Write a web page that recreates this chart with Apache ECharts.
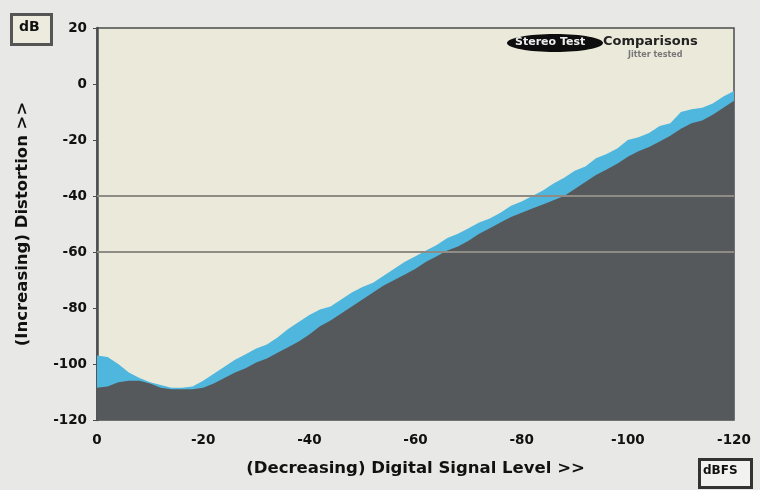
<!DOCTYPE html>
<html><head><meta charset="utf-8">
<script src="https://cdn.jsdelivr.net/npm/echarts@6/dist/echarts.min.js"></script>
<style>html,body{margin:0;padding:0;background:#e8e8e7;}#c{width:760px;height:490px;}</style>
</head><body><div id="c"></div>
<script>
const signalLevels = [0,-2,-4,-6,-8,-10,-12,-14,-16,-18,-20,-22,-24,-26,-28,-30,-32,-34,-36,-38,-40,-42,-44,-46,-48,-50,-52,-54,-56,-58,-60,-62,-64,-66,-68,-70,-72,-74,-76,-78,-80,-82,-84,-86,-88,-90,-92,-94,-96,-98,-100,-102,-104,-106,-108,-110,-112,-114,-116,-118,-120];
const upperDistortion = [-97,-97.5,-100,-103,-105,-106.5,-107.5,-108.5,-108.5,-108,-106,-103.5,-101,-98.5,-96.5,-94.5,-93,-90.5,-87.5,-85,-82.5,-80.5,-79.5,-77,-74.5,-72.5,-71,-68.5,-66,-63.5,-61.5,-59.5,-57.5,-55,-53.5,-51.5,-49.5,-48,-46,-43.5,-42,-40,-38,-35.5,-33.5,-31,-29.5,-26.5,-25,-23,-20,-19,-17.5,-15,-14,-10,-9,-8.5,-7,-4.5,-2.5];
const lowerDistortion = [-108.5,-108,-106.5,-106,-106,-107,-108.5,-109,-109,-109,-108.5,-107,-105,-103,-101.5,-99.5,-98,-96,-94,-92,-89.5,-86.5,-84.5,-82,-79.5,-77,-74.5,-72,-70,-68,-66,-63.5,-61.5,-59.5,-58,-56,-53.5,-51.5,-49.5,-47.5,-46,-44.5,-43,-41.5,-40,-37.5,-35,-32.5,-30.5,-28.5,-26,-24,-22.5,-20.5,-18.5,-16,-14,-13,-11,-8.5,-6];
const yTicks = [20,0,-20,-40,-60,-80,-100,-120];
const xTicks = [0,-20,-40,-60,-80,-100,-120];
const gridLevels = [-40,-60];

const chart = echarts.init(document.getElementById('c'));
const lab = {fontFamily:'DejaVu Sans', fontWeight:'bold', fontSize:13.5, color:'#111'};
const ttl = {fontFamily:'DejaVu Sans', fontWeight:'bold', fontSize:16.5, color:'#111'};
chart.setOption({
  backgroundColor:'#e8e8e7',
  animation:false,
  grid:{left:97,right:26,top:28,bottom:70,show:true,backgroundColor:'#ebe9d9',borderColor:'#4a4c4e',borderWidth:1.5},
  xAxis:{type:'value',inverse:true,min:xTicks[xTicks.length-1],max:xTicks[0],interval:20,
    axisLine:{show:false},axisTick:{show:false},splitLine:{show:false},
    axisLabel:Object.assign({margin:13},lab),
    name:'(Decreasing) Digital Signal Level >>',nameLocation:'middle',nameGap:40,
    nameTextStyle:ttl},
  yAxis:{type:'value',min:yTicks[yTicks.length-1],max:yTicks[0],interval:20,
    axisLine:{show:true,lineStyle:{color:'#4a4c4e',width:2.5}},
    axisTick:{show:true,length:4,lineStyle:{color:'#4a4c4e'}},
    splitLine:{show:false},
    axisLabel:Object.assign({margin:10},lab),
    name:'(Increasing) Distortion >>',nameLocation:'middle',nameGap:66,
    nameTextStyle:ttl},
  series:[
    {type:'line',data:signalLevels.map((x,i)=>[x,upperDistortion[i]]),symbol:'none',
     lineStyle:{width:0},areaStyle:{color:'#4fb6de',opacity:1,origin:'start'},z:2},
    {type:'line',data:signalLevels.map((x,i)=>[x,lowerDistortion[i]]),symbol:'none',
     lineStyle:{width:0},areaStyle:{color:'#56595b',opacity:1,origin:'start'},z:3,
     markLine:{silent:true,symbol:'none',label:{show:false},
       lineStyle:{color:'#8e8c84',width:2,type:'solid'},
       data:gridLevels.map(v=>({yAxis:v}))}}
  ],
  graphic:[
    {type:'rect',left:10,top:13,shape:{width:40,height:30},style:{fill:'#ecebdd',stroke:'#555',lineWidth:3}},
    {type:'text',left:19,top:20,style:{text:'dB',font:'bold 14px DejaVu Sans',fill:'#111'}},
    {type:'rect',left:698,top:458,shape:{width:52,height:28},style:{fill:'#f2f2f0',stroke:'#333',lineWidth:3}},
    {type:'text',left:703,top:465,style:{text:'dBFS',font:'bold 12px DejaVu Sans',fill:'#111'}},
    {type:'ellipse',shape:{cx:555,cy:43,rx:48,ry:9},style:{fill:'#0d0d0d'}},
    {type:'text',left:515,top:37,style:{text:'Stereo Test',font:'bold 11px DejaVu Sans',fill:'#eee'}},
    {type:'text',left:603,top:35,style:{text:'Comparisons',font:'bold 13px DejaVu Sans',fill:'#222'}},
    {type:'text',left:628,top:51,style:{text:'Jitter tested',font:'bold 8px DejaVu Sans',fill:'#777'}}
  ]
});
</script></body></html>
